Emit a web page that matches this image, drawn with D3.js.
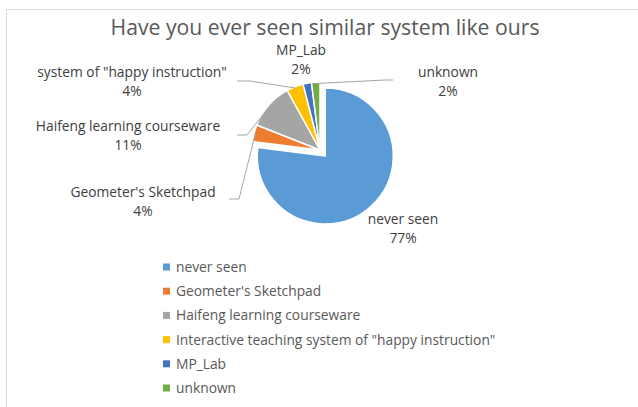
<!DOCTYPE html>
<html>
<head>
<meta charset="utf-8">
<script src="https://cdn.jsdelivr.net/npm/d3@7"></script>
<style>
  html, body { margin: 0; padding: 0; background: #fff; }
  svg { display: block; font-family: "Open Sans", "Noto Sans", sans-serif; }
</style>
</head>
<body>
<svg id="chart" width="638" height="407"></svg>
<script>
// Survey answers, in percent
const categories = [
  "never seen",
  "Geometer's Sketchpad",
  "Haifeng learning courseware",
  "Interactive teaching system of \"happy instruction\"",
  "MP_Lab",
  "unknown"
];
const values = [77, 4, 11, 4, 2, 2];
// Data-label first lines (the long label is cut at the chart edge)
const labelNames = [
  "never seen",
  "Geometer's Sketchpad",
  "Haifeng learning courseware",
  "system of \"happy instruction\"",
  "MP_Lab",
  "unknown"
];
const colors = ["#5B9BD5", "#ED7D31", "#A5A5A5", "#FFC000", "#4472C4", "#70AD47"];

const svg = d3.select("#chart");
const W = 638, H = 407;

// Chart-area frame
svg.append("rect")
  .attr("x", 6.5).attr("y", 9.5)
  .attr("width", W + 10).attr("height", H + 10)
  .attr("fill", "#fff").attr("stroke", "#d9d9d9").attr("stroke-width", 1);

// Title
svg.append("text")
  .attr("x", 325).attr("y", 35)
  .attr("text-anchor", "middle")
  .attr("font-size", 21.2)
  .attr("fill", "#595959")
  .text("Have you ever seen similar system like ours");

// Pie
const cx = 320, cy = 150, R = 68;
const explode = [8, 0, 0, 0, 0, 0];
const pie = d3.pie().sort(null).value(d => d)(values);
const arc = d3.arc().innerRadius(0).outerRadius(R);

const g = svg.append("g").attr("transform", `translate(${cx},${cy})`);
g.selectAll("path.slice")
  .data(pie)
  .join("path")
  .attr("class", "slice")
  .attr("d", arc)
  .attr("fill", (d, i) => colors[i])
  .attr("stroke", "#fff")
  .attr("stroke-width", 1.5)
  .attr("stroke-linejoin", "round")
  .attr("transform", (d, i) => {
    const a = (d.startAngle + d.endAngle) / 2;
    return `translate(${explode[i] * Math.sin(a)},${-explode[i] * Math.cos(a)})`;
  });

// Label placement: text centre and optional leader line (elbow, end)
const labelLayout = [
  { x: 403, y: 219, leader: null },
  { x: 143, y: 192, leader: [[239, 199], [229, 199]] },
  { x: 128, y: 126, leader: [[247, 135], [237, 135]] },
  { x: 132, y: 72,  leader: [[250, 81], [237, 81]] },
  { x: 301, y: 50,  leader: null },
  { x: 448, y: 72,  leader: [[385, 80], [393, 80]] }
];

// Leader lines start on the slice edge at its mid angle
pie.forEach((d, i) => {
  const L = labelLayout[i];
  if (!L.leader) return;
  const a = (d.startAngle + d.endAngle) / 2;
  const start = [cx + R * 0.98 * Math.sin(a), cy - R * 0.98 * Math.cos(a)];
  svg.append("path")
    .attr("d", d3.line()([start, ...L.leader]))
    .attr("fill", "none")
    .attr("stroke", "#a6a6a6")
    .attr("stroke-width", 1);
});

// Data labels: name and percentage
const lab = svg.append("g")
  .attr("font-size", 13.8)
  .attr("fill", "#404040")
  .attr("text-anchor", "middle");
pie.forEach((d, i) => {
  const L = labelLayout[i];
  const t = lab.append("text").attr("x", L.x).attr("y", L.y + 5);
  t.append("tspan").attr("x", L.x).text(labelNames[i]);
  t.append("tspan").attr("x", L.x).attr("dy", 19).text(d3.format(".0f")(d.value) + "%");
});

// Legend
const legend = svg.append("g").attr("transform", "translate(163,267)");
const rows = legend.selectAll("g")
  .data(categories)
  .join("g")
  .attr("transform", (d, i) => `translate(0,${i * 24.2})`);
rows.append("rect")
  .attr("x", 0).attr("y", -3.5)
  .attr("width", 7).attr("height", 7)
  .attr("fill", (d, i) => colors[i]);
rows.append("text")
  .attr("x", 13).attr("y", 5)
  .attr("font-size", 13.8)
  .attr("fill", "#595959")
  .text(d => d);
</script>
</body>
</html>
